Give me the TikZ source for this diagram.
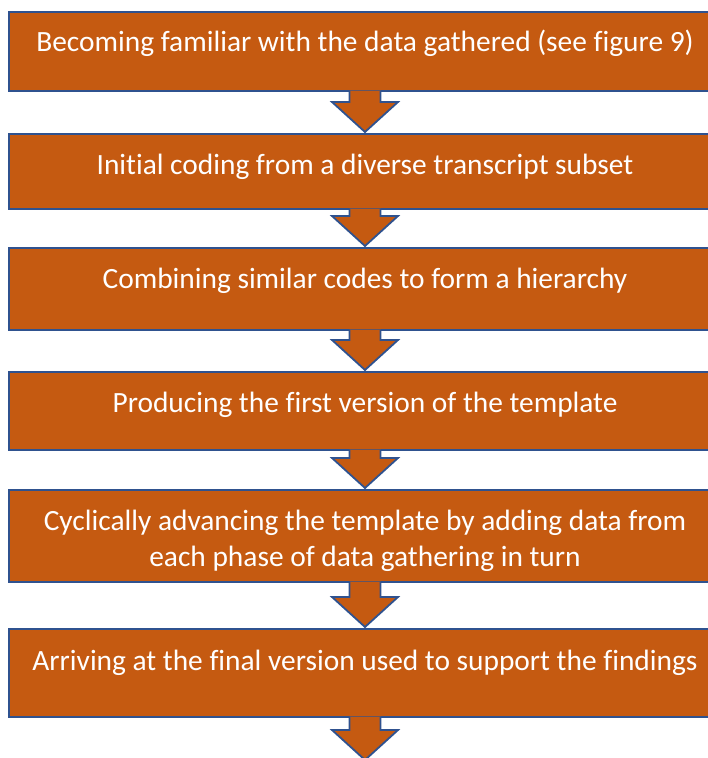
\documentclass[tikz,border=0pt]{standalone}
\usepackage{fontspec}
\setmainfont{Carlito}[Ligatures=NoCommon]
\usetikzlibrary{calc}
\definecolor{boxfill}{HTML}{C55A11}
\definecolor{boxline}{HTML}{2F528F}
\tikzset{
  stepbox/.style={draw=boxline, line width=2pt, fill=boxfill, rectangle,
    inner sep=0pt, minimum width=712pt},
  steptext/.style={text=white, font=\fontsize{29.4}{36}\selectfont,
    align=center, inner sep=0pt, anchor=base},
  arrowline/.style={draw=boxline, line width=1.8pt, line join=miter},
}
% block arrow pointing down from #1 (top middle) to #2 (tip)
\newcommand\blockarrow[2]{%
  \fill[boxfill] let \p1=(#1), \p2=(#2) in
    (\x1-15.5pt,\y1+1.5pt) -- (\x1-15.5pt,\y2+30pt) -- (\x1-33pt,\y2+30pt)
    -- (\x2,\y2) -- (\x1+33pt,\y2+30pt) -- (\x1+15.5pt,\y2+30pt)
    -- (\x1+15.5pt,\y1+1.5pt) -- cycle;
  \draw[arrowline] let \p1=(#1), \p2=(#2) in
    (\x1-15.5pt,\y1+1pt) -- (\x1-15.5pt,\y2+30pt) -- (\x1-33pt,\y2+30pt)
    -- (\x2,\y2) -- (\x1+33pt,\y2+30pt) -- (\x1+15.5pt,\y2+30pt)
    -- (\x1+15.5pt,\y1+1pt);
}
\begin{document}
\begin{tikzpicture}[x=1pt, y=-1pt]
  \useasboundingbox (0,0) rectangle (708,758);

  % step boxes
  \node[stepbox, minimum height=79pt] (b1) at (365,51.5) {};
  \node[stepbox, minimum height=75pt] (b2) at (365,171.5) {};
  \node[stepbox, minimum height=82pt] (b3) at (365,289) {};
  \node[stepbox, minimum height=78pt] (b4) at (365,411) {};
  \node[stepbox, minimum height=92pt] (b5) at (365,536) {};
  \node[stepbox, minimum height=88pt] (b6) at (365,673) {};
  \coordinate (end) at (365,760);

  % labels (base anchor sits on the last line)
  \node[steptext] (t1) at ($(b1.north)+(0,40)$) {Becoming familiar with the data gathered (see figure 9)};
  \node[steptext] (t2) at ($(b2.north)+(0,41)$) {Initial coding from a diverse transcript subset};
  \node[steptext] (t3) at ($(b3.north)+(0,41)$) {Combining similar codes to form a hierarchy};
  \node[steptext] (t4) at ($(b4.north)+(0,41)$) {Producing the first version of the template};
  \node[steptext] (t5) at ($(b5.north)+(0,77)$) {Cyclically advancing the template by adding data from\\each phase of data gathering in turn};
  \node[steptext] (t6) at ($(b6.north)+(0,42)$) {Arriving at the final version used to support the findings};

  % connecting arrows
  \blockarrow{b1.south}{$(b2.north)+(0,-1)$}
  \blockarrow{b2.south}{$(b3.north)+(0,-1)$}
  \blockarrow{b3.south}{$(b4.north)+(0,-1)$}
  \blockarrow{b4.south}{$(b5.north)+(0,-1)$}
  \blockarrow{b5.south}{$(b6.north)+(0,-1)$}
  \blockarrow{b6.south}{end}
\end{tikzpicture}
\end{document}
